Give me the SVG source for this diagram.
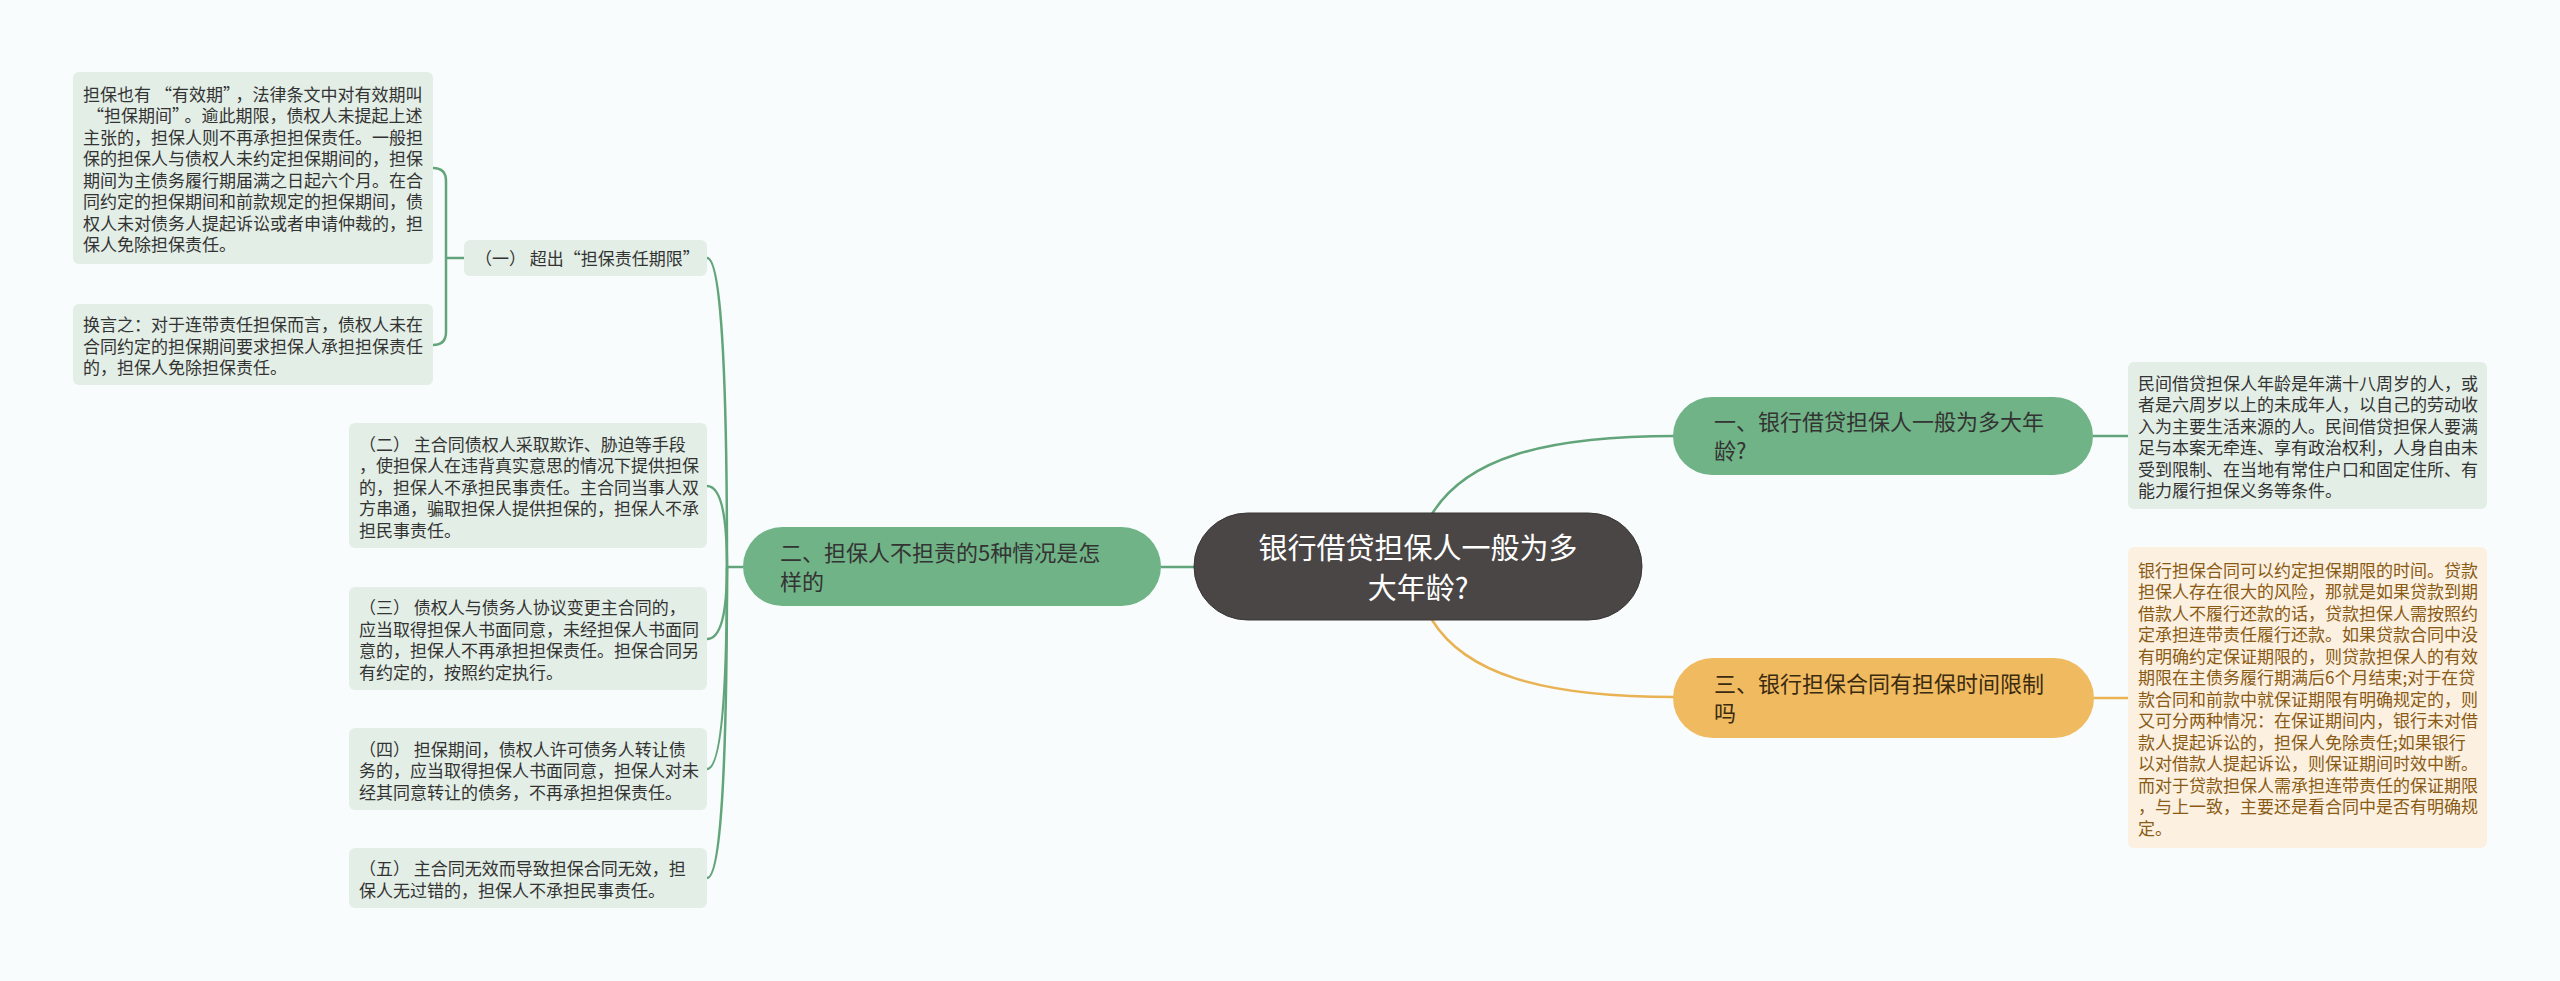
<svg xmlns="http://www.w3.org/2000/svg" width="2560" height="981" viewBox="0 0 2560 981">
<style>
text{font-family:"Noto Sans CJK SC","Noto Sans CJK TC",sans-serif}
.leafG{fill:#e3eee6}
.leafO{fill:#fcf0e1}
.tG{font-size:17px;fill:#333333}
.tO{font-size:17px;fill:#8a5b14}
.bG{fill:#70b386}
.bO{fill:#f0ba60}
.tb{font-size:22px;fill:#333333}
.tbo{font-size:22px;fill:#3a2a10}
.cg{fill:none;stroke:#62a57a;stroke-width:2.5}
.co{fill:none;stroke:#e9b253;stroke-width:2.5}
</style>
<rect x="0" y="0" width="2560" height="981" fill="#f8fcfc"/>
<g id="connectors">
<path class="cg" d="M1432 514 C1465 460 1540 436 1675 436"/>
<path class="co" d="M1432 620 C1465 673 1540 697 1675 697"/>
<path class="cg" d="M1194 567 H1161"/>
<path class="cg" d="M2093 436 H2128"/>
<path class="co" d="M2094 698 H2128"/>
<path class="cg" d="M743 567 H727"/>
<path class="cg" d="M727 567 Q727 258 707 258"/>
<path class="cg" d="M727 567 Q727 486 707 486"/>
<path class="cg" d="M727 567 Q727 639 707 639"/>
<path class="cg" d="M727 567 Q727 769 707 769"/>
<path class="cg" d="M727 567 Q727 878 707 878"/>
<path class="cg" d="M464 258 H446"/>
<path class="cg" d="M433 168 Q446 168 446 181 V332 Q446 345 433 345"/>
</g>
<g id="center">
<rect x="1194" y="513" width="448" height="107" rx="53.5" fill="#4b4646" stroke="#3a3636" stroke-width="1"/>
<text x="1418" y="559" font-size="29" fill="#ffffff" text-anchor="middle">银行借贷担保人一般为多</text>
<text x="1418" y="599" font-size="29" fill="#ffffff" text-anchor="middle">大年龄?</text>
</g>
<g id="branch1">
<rect class="bG" x="1673" y="397" width="420" height="78" rx="39"/>
<text class="tb" x="1714" y="429.5">一、银行借贷担保人一般为多大年</text>
<text class="tb" x="1714" y="458.5">龄?</text>
</g>
<g id="branch1-leaf">
<rect class="leafG" x="2128" y="362" width="359" height="147" rx="6"/>
<text class="tG" x="2138" y="389.75">民间借贷担保人年龄是年满十八周岁的人，或</text>
<text class="tG" x="2138" y="411.25">者是六周岁以上的未成年人，以自己的劳动收</text>
<text class="tG" x="2138" y="432.75">入为主要生活来源的人。民间借贷担保人要满</text>
<text class="tG" x="2138" y="454.25">足与本案无牵连、享有政治权利，人身自由未</text>
<text class="tG" x="2138" y="475.75">受到限制、在当地有常住户口和固定住所、有</text>
<text class="tG" x="2138" y="497.25">能力履行担保义务等条件。</text>
</g>
<g id="branch3">
<rect class="bO" x="1673" y="658" width="421" height="80" rx="40"/>
<text class="tbo" x="1714" y="691.5">三、银行担保合同有担保时间限制</text>
<text class="tbo" x="1714" y="720.5">吗</text>
</g>
<g id="branch3-leaf">
<rect class="leafO" x="2128" y="547" width="359" height="301" rx="6"/>
<text class="tO" x="2138" y="576.5">银行担保合同可以约定担保期限的时间。贷款</text>
<text class="tO" x="2138" y="598">担保人存在很大的风险，那就是如果贷款到期</text>
<text class="tO" x="2138" y="619.5">借款人不履行还款的话，贷款担保人需按照约</text>
<text class="tO" x="2138" y="641">定承担连带责任履行还款。如果贷款合同中没</text>
<text class="tO" x="2138" y="662.5">有明确约定保证期限的，则贷款担保人的有效</text>
<text class="tO" x="2138" y="684">期限在主债务履行期满后6个月结束;对于在贷</text>
<text class="tO" x="2138" y="705.5">款合同和前款中就保证期限有明确规定的，则</text>
<text class="tO" x="2138" y="727">又可分两种情况：在保证期间内，银行未对借</text>
<text class="tO" x="2138" y="748.5">款人提起诉讼的，担保人免除责任;如果银行</text>
<text class="tO" x="2138" y="770">以对借款人提起诉讼，则保证期间时效中断。</text>
<text class="tO" x="2138" y="791.5">而对于贷款担保人需承担连带责任的保证期限</text>
<text class="tO" x="2138" y="813">，与上一致，主要还是看合同中是否有明确规</text>
<text class="tO" x="2138" y="834.5">定。</text>
</g>
<g id="branch2">
<rect class="bG" x="743" y="527" width="418" height="79" rx="39.5"/>
<text class="tb" x="780" y="560.5">二、担保人不担责的5种情况是怎</text>
<text class="tb" x="780" y="589.5">样的</text>
</g>
<g id="sub1">
<rect class="leafG" x="464" y="240" width="243" height="36" rx="6"/>
<text class="tG" x="475" y="264.5">（一） 超出“担保责任期限”</text>
</g>
<g id="sub1-leafA">
<rect class="leafG" x="73" y="72" width="360" height="192" rx="6"/>
<text class="tG" x="83" y="100.75">担保也有<tspan dx="4">“</tspan>有效期”<tspan dx="4">，</tspan>法律条文中对有效期叫</text>
<text class="tG" x="83" y="122.25"><tspan dx="4">“</tspan>担保期间”<tspan dx="4">。</tspan>逾此期限，债权人未提起上述</text>
<text class="tG" x="83" y="143.75">主张的，担保人则不再承担担保责任。一般担</text>
<text class="tG" x="83" y="165.25">保的担保人与债权人未约定担保期间的，担保</text>
<text class="tG" x="83" y="186.75">期间为主债务履行期届满之日起六个月。在合</text>
<text class="tG" x="83" y="208.25">同约定的担保期间和前款规定的担保期间，债</text>
<text class="tG" x="83" y="229.75">权人未对债务人提起诉讼或者申请仲裁的，担</text>
<text class="tG" x="83" y="251.25">保人免除担保责任。</text>
</g>
<g id="sub1-leafB">
<rect class="leafG" x="73" y="304" width="360" height="81" rx="6"/>
<text class="tG" x="83" y="331">换言之：对于连带责任担保而言，债权人未在</text>
<text class="tG" x="83" y="352.5">合同约定的担保期间要求担保人承担担保责任</text>
<text class="tG" x="83" y="374">的，担保人免除担保责任。</text>
</g>
<g id="sub2">
<rect class="leafG" x="349" y="423" width="358" height="125" rx="6"/>
<text class="tG" x="359" y="450.5">（二） 主合同债权人采取欺诈、胁迫等手段</text>
<text class="tG" x="359" y="472">，使担保人在违背真实意思的情况下提供担保</text>
<text class="tG" x="359" y="493.5">的，担保人不承担民事责任。主合同当事人双</text>
<text class="tG" x="359" y="515">方串通，骗取担保人提供担保的，担保人不承</text>
<text class="tG" x="359" y="536.5">担民事责任。</text>
</g>
<g id="sub3">
<rect class="leafG" x="349" y="587" width="358" height="103" rx="6"/>
<text class="tG" x="359" y="614.25">（三） 债权人与债务人协议变更主合同的，</text>
<text class="tG" x="359" y="635.75">应当取得担保人书面同意，未经担保人书面同</text>
<text class="tG" x="359" y="657.25">意的，担保人不再承担担保责任。担保合同另</text>
<text class="tG" x="359" y="678.75">有约定的，按照约定执行。</text>
</g>
<g id="sub4">
<rect class="leafG" x="349" y="728" width="358" height="82" rx="6"/>
<text class="tG" x="359" y="755.5">（四） 担保期间，债权人许可债务人转让债</text>
<text class="tG" x="359" y="777">务的，应当取得担保人书面同意，担保人对未</text>
<text class="tG" x="359" y="798.5">经其同意转让的债务，不再承担担保责任。</text>
</g>
<g id="sub5">
<rect class="leafG" x="349" y="848" width="358" height="60" rx="6"/>
<text class="tG" x="359" y="875.25">（五） 主合同无效而导致担保合同无效，担</text>
<text class="tG" x="359" y="896.75">保人无过错的，担保人不承担民事责任。</text>
</g>
</svg>
